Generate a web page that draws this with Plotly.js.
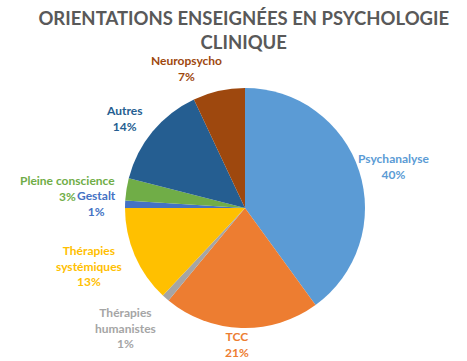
<!DOCTYPE html>
<html>
<head>
<meta charset="utf-8">
<script src="https://cdn.plot.ly/plotly-3.0.1.min.js"></script>
<style>html,body{margin:0;padding:0;background:#fff;}#chart{width:467px;height:361px;}</style>
</head>
<body>
<div id="chart"></div>
<script>
var categories = ["Psychanalyse", "TCC", "Thérapies<br>humanistes", "Thérapies<br>systémiques", "Gestalt", "Pleine conscience", "Autres", "Neuropsycho"];
var values = [40, 21, 1, 13, 1, 3, 14, 7];
var colors = ["#5B9BD5", "#ED7D31", "#A5A5A5", "#FFC000", "#4472C4", "#70AD47", "#255E91", "#9E480E"];
var titleText = "ORIENTATIONS ENSEIGNÉES EN PSYCHOLOGIE<br>CLINIQUE";

var W = 467, H = 361;
// label anchor positions in pixels (centre of text block)
var labelPos = [
  [394, 166], [237, 344], [125, 328], [89, 266], [96, 203.5], [67, 188.5], [124, 118], [186, 69]
];

var total = values.reduce(function(a,b){return a+b;}, 0);
var annotations = categories.map(function(c, i){
  var pct = Math.round(values[i] / total * 100) + "%";
  return {
    text: c + "<br>" + pct, xref: "paper", yref: "paper",
    x: labelPos[i][0] / W, y: 1 - labelPos[i][1] / H,
    xanchor: "center", yanchor: "middle", showarrow: false,
    align: "center",
    font: {family: "Lato, 'Open Sans', sans-serif", size: 12, color: colors[i], weight: "bold"}
  };
});

var trace = {
  type: "pie",
  labels: categories,
  values: values,
  sort: false,
  direction: "clockwise",
  rotation: 0,
  textinfo: "none",
  hoverinfo: "label+percent",
  marker: {colors: colors, line: {width: 0}},
  domain: {x: [125/W, 365/W], y: [1 - 328/H, 1 - 88/H]},
  showlegend: false
};

var layout = {
  width: W, height: H,
  margin: {l: 0, r: 0, t: 0, b: 0},
  paper_bgcolor: "#ffffff",
  showlegend: false,
  title: {
    text: titleText,
    x: 0.522, xanchor: "center", y: 1 - 25/H, yanchor: "middle",
    font: {family: "Lato, 'Open Sans', sans-serif", size: 18.5, color: "#595959", weight: "bold"}
  },
  annotations: annotations
};

Plotly.newPlot("chart", [trace], layout, {displayModeBar: false, staticPlot: true});
</script>
</body>
</html>
